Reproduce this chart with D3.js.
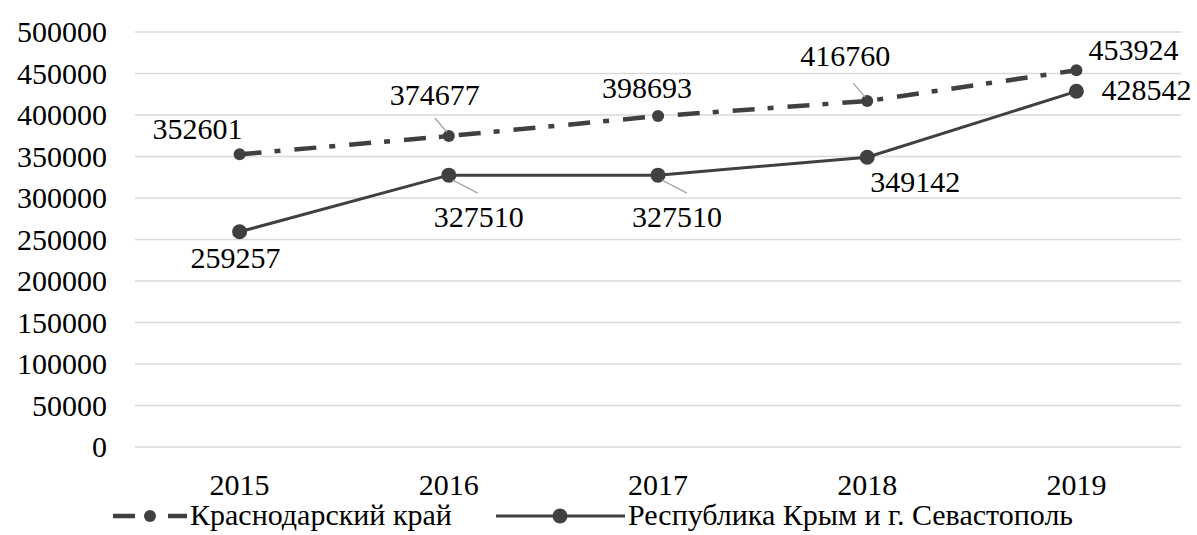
<!DOCTYPE html>
<html>
<head>
<meta charset="utf-8">
<script src="https://cdn.jsdelivr.net/npm/d3@7"></script>
</head>
<body style="margin:0;background:#fff">
<div id="chart" style="position:relative;width:1197px;height:535px">
  <div id="leg1" style="position:absolute;left:190px;top:500px;white-space:nowrap;font-family:'Liberation Serif';font-size:30px;line-height:30px;color:#000">Краснодарский край</div>
  <div id="leg2" style="position:absolute;left:628px;top:500px;white-space:nowrap;font-family:'Liberation Serif';font-size:30px;line-height:30px;color:#000">Республика Крым и г. Севастополь</div>
</div>
<script>
// data
const years = ["2015", "2016", "2017", "2018", "2019"];
const krasnodar = [352601, 374677, 398693, 416760, 453924];
const crimea = [259257, 327510, 327510, 349142, 428542];
const yTicks = [0, 50000, 100000, 150000, 200000, 250000, 300000, 350000, 400000, 450000, 500000];
const seriesNames = ["Краснодарский край", "Республика Крым и г. Севастополь"];

const width = 1197, height = 535;
const ink = "#404040";

const chart = d3.select("#chart");
const svg = chart.insert("svg", ":first-child")
  .attr("width", width)
  .attr("height", height)
  .style("position", "absolute").style("left", 0).style("top", 0);

d3.select("#leg1").text(seriesNames[0]);
d3.select("#leg2").text(seriesNames[1]);

const x = d3.scaleBand().domain(years).range([135, 1181]);
const y = d3.scaleLinear().domain([0, 500000]).range([447, 32]);
const cx = d => x(d) + x.bandwidth() / 2;

function txt(px, base, anchor, s) {
  svg.append("text")
    .attr("x", px).attr("y", base)
    .attr("text-anchor", anchor)
    .attr("font-family", "Liberation Serif")
    .attr("font-size", 30)
    .attr("fill", "#000")
    .text(s);
}

// gridlines
svg.append("g").selectAll("line")
  .data(yTicks)
  .enter().append("line")
  .attr("x1", 135).attr("x2", 1181)
  .attr("y1", d => y(d)).attr("y2", d => y(d))
  .attr("stroke", "#d9d9d9").attr("stroke-width", 1.3);

// y labels
yTicks.forEach(d => txt(107, y(d) + 10, "end", d));

// x labels
years.forEach(d => txt(cx(d), 495, "middle", d));

const line = d3.line().x((d, i) => cx(years[i])).y(d => y(d));

// Krasnodar, dash-dot
svg.append("path")
  .attr("d", line(krasnodar))
  .attr("fill", "none")
  .attr("stroke", ink)
  .attr("stroke-width", 4.5)
  .attr("stroke-dasharray", "22,13,6,14");
svg.append("g").selectAll("circle")
  .data(krasnodar)
  .enter().append("circle")
  .attr("cx", (d, i) => cx(years[i])).attr("cy", d => y(d))
  .attr("r", 6).attr("fill", ink);

// Crimea, solid
svg.append("path")
  .attr("d", line(crimea))
  .attr("fill", "none")
  .attr("stroke", ink)
  .attr("stroke-width", 3);
svg.append("g").selectAll("circle")
  .data(crimea)
  .enter().append("circle")
  .attr("cx", (d, i) => cx(years[i])).attr("cy", d => y(d))
  .attr("r", 7.5).attr("fill", ink);

// label offsets relative to the point: [dx, dy of baseline, leader?]
const kLab = [[-42, -15, 0], [-14, -31, 1], [-11, -18, 0], [-22, -35, 1], [57, -10, 0]];
const cLab = [[-4, 36, 0], [30, 52, 1], [19, 52, 1], [48, 35, 0], [70, 9, 0]];

function labels(vals, offs) {
  vals.forEach((v, i) => {
    const px = cx(years[i]), py = y(v), o = offs[i];
    if (o[2]) {
      const up = o[1] < 0;
      svg.append("line")
        .attr("x1", px + (up ? -14 : 4)).attr("y1", up ? py - 18 : py + 5)
        .attr("x2", px + (up ? -2 : 29)).attr("y2", up ? py - 4 : py + 18)
        .attr("stroke", "#a6a6a6").attr("stroke-width", 1.3);
    }
    txt(px + o[0], py + o[1], "middle", v);
  });
}
labels(krasnodar, kLab);
labels(crimea, cLab);

// legend markers
const lg = svg.append("g");
lg.append("line")
  .attr("x1", 113).attr("x2", 187).attr("y1", 516).attr("y2", 516)
  .attr("stroke", ink).attr("stroke-width", 4.5)
  .attr("stroke-dasharray", "22,13,6,14");
lg.append("circle").attr("cx", 150).attr("cy", 516).attr("r", 6).attr("fill", ink);
lg.append("line")
  .attr("x1", 496).attr("x2", 625).attr("y1", 516).attr("y2", 516)
  .attr("stroke", ink).attr("stroke-width", 3);
lg.append("circle").attr("cx", 560).attr("cy", 516).attr("r", 7.5).attr("fill", ink);
</script>
</body>
</html>
